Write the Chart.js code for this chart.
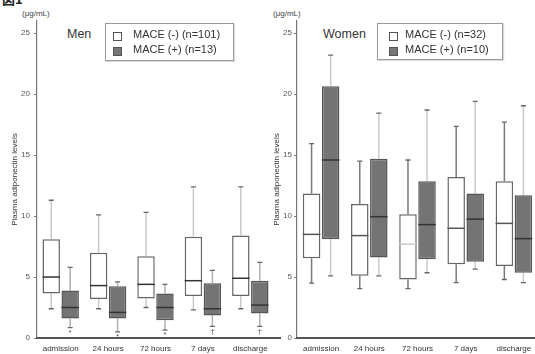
<!DOCTYPE html>
<html>
<head>
<meta charset="utf-8">
<script src="https://cdn.jsdelivr.net/npm/chart.js@4.4.1/dist/chart.umd.min.js"></script>
<style>
  html, body { margin: 0; padding: 0; background: #fff; }
  body { width: 535px; height: 354px; overflow: hidden; position: relative; font-family: "Liberation Sans", Arial, sans-serif; color: #333; }
  .abs { position: absolute; white-space: nowrap; }
  #fig { left: 2px; top: -8px; font: bold 13px/13px "Noto Sans CJK JP", sans-serif; color: #222; }
  .unit { top: 9px; font-size: 8px; line-height: 10px; color: #444; }
  .ptitle { top: 27px; font-size: 12.5px; line-height: 14px; color: #333; }
  .legend { border: 1px solid #999; box-shadow: 1px 1px 1px #ddd; background: #fff; }
  .legend .sw { position: absolute; width: 7px; height: 7px; border: 1px solid #555; }
  .legend .tx { position: absolute; font-size: 11px; line-height: 13px; color: #333; white-space: nowrap; }
  .wrap { position: absolute; top: 0; height: 354px; }
</style>
</head>
<body>
<div id="fig" class="abs">図1</div>
<div class="abs unit" style="left:22px">(μg/mL)</div>
<div class="abs unit" style="left:273px">(μg/mL)</div>
<div class="abs ptitle" style="left:67px">Men</div>
<div class="abs ptitle" style="left:323px">Women</div>

<div class="wrap" style="left:0px;width:282px"><canvas id="men"></canvas></div>
<div class="wrap" style="left:260px;width:278px"><canvas id="women"></canvas></div>

<div class="abs legend" style="left:105px;top:23px;width:127px;height:36px">
  <div class="sw" style="left:7px;top:8px;background:#fff"></div>
  <div class="tx" style="left:27px;top:4px" id="lgm1"></div>
  <div class="sw" style="left:7px;top:23px;background:#777"></div>
  <div class="tx" style="left:27px;top:19px" id="lgm2"></div>
</div>
<div class="abs legend" style="left:377px;top:23px;width:124px;height:35px">
  <div class="sw" style="left:11px;top:8px;background:#fff"></div>
  <div class="tx" style="left:27px;top:4px" id="lgw1"></div>
  <div class="sw" style="left:11px;top:23px;background:#777"></div>
  <div class="tx" style="left:27px;top:19px" id="lgw2"></div>
</div>

<script>
const timePoints = ['admission', '24 hours', '72 hours', '7 days', 'discharge'];
const yTicks = [0, 5, 10, 15, 20, 25];

// each box: [min, q1, median, q3, max]  (μg/mL)
const menNoMace = [
  [2.4, 3.65, 5.0, 8.1, 11.3],
  [2.4, 3.2, 4.3, 7.0, 10.1],
  [2.5, 3.25, 4.4, 6.7, 10.3],
  [2.3, 3.45, 4.7, 8.3, 12.4],
  [2.4, 3.45, 4.9, 8.4, 12.4]
];
const menMace = [
  [0.85, 1.6, 2.5, 3.9, 5.8],
  [0.5, 1.6, 2.1, 4.25, 4.6],
  [0.65, 1.45, 2.5, 3.65, 4.4],
  [0.95, 1.85, 2.4, 4.5, 5.55],
  [0.95, 2.0, 2.7, 4.7, 6.2]
];
const womenNoMace = [
  [4.5, 6.55, 8.5, 11.85, 15.95],
  [4.05, 5.1, 8.4, 11.0, 14.5],
  [4.05, 4.8, 7.7, 10.15, 14.6],
  [4.55, 6.05, 9.0, 13.2, 17.35],
  [4.8, 5.9, 9.4, 12.85, 17.7]
];
const womenMace = [
  [5.1, 8.1, 14.6, 20.65, 23.2],
  [5.1, 6.6, 9.95, 14.7, 18.45],
  [5.35, 6.45, 9.3, 12.85, 18.7],
  [5.65, 6.25, 9.75, 11.85, 19.4],
  [4.55, 5.35, 8.15, 11.7, 19.05]
];
const menMarks = ['*', '*', '*', '†', '†'];
const menLabels = ['MACE (-) (n=101)', 'MACE (+) (n=13)'];
const womenLabels = ['MACE (-) (n=32)', 'MACE (+) (n=10)'];

document.getElementById('lgm1').textContent = menLabels[0];
document.getElementById('lgm2').textContent = menLabels[1];
document.getElementById('lgw1').textContent = womenLabels[0];
document.getElementById('lgw2').textContent = womenLabels[1];

const FONT = '"Liberation Sans", Arial, sans-serif';

// whiskers, caps, medians and marks drawn with the chart's own scales
const boxPlugin = {
  id: 'boxes',
  beforeDatasetsDraw(chart) {
    const ctx = chart.ctx;
    const y = chart.scales.y;
    chart.data.datasets.forEach((ds, i) => {
      const meta = chart.getDatasetMeta(i);
      meta.data.forEach((el, j) => {
        const s = ds.stats[j];
        const x = el.x;
        ctx.save();
        ctx.strokeStyle = ds.whiskerColor;
        ctx.lineWidth = 1.5;
        ctx.beginPath();
        ctx.moveTo(x, y.getPixelForValue(s[3]));
        ctx.lineTo(x, y.getPixelForValue(s[4]));
        ctx.moveTo(x, y.getPixelForValue(s[1]));
        ctx.lineTo(x, y.getPixelForValue(s[0]));
        ctx.stroke();
        ctx.strokeStyle = '#666';
        ctx.lineWidth = 1.3;
        ctx.beginPath();
        [s[0], s[4]].forEach(v => {
          const py = y.getPixelForValue(v);
          ctx.moveTo(x - 2.5, py);
          ctx.lineTo(x + 2.5, py);
        });
        ctx.stroke();
        ctx.restore();
      });
    });
  },
  afterDatasetsDraw(chart) {
    const ctx = chart.ctx;
    const y = chart.scales.y;
    const area = chart.chartArea;
    chart.data.datasets.forEach((ds, i) => {
      const meta = chart.getDatasetMeta(i);
      meta.data.forEach((el, j) => {
        const s = ds.stats[j];
        const py = y.getPixelForValue(s[2]);
        ctx.save();
        ctx.strokeStyle = ds.medianColors ? ds.medianColors[j] : '#333';
        ctx.lineWidth = 1.5;
        ctx.beginPath();
        ctx.moveTo(el.x - el.width / 2, py);
        ctx.lineTo(el.x + el.width / 2, py);
        ctx.stroke();
        if (ds.marks) {
          ctx.fillStyle = '#555';
          ctx.font = '8px ' + FONT;
          ctx.textAlign = 'center';
          ctx.textBaseline = 'middle';
          ctx.fillText(ds.marks[j], el.x, y.getPixelForValue(s[0]) + 5);
        }
        ctx.restore();
      });
    });
    // x axis line
    ctx.save();
    ctx.strokeStyle = '#555';
    ctx.lineWidth = 2;
    ctx.beginPath();
    ctx.moveTo(area.left - 1, area.bottom);
    ctx.lineTo(area.right + chart.options.axisExtend, area.bottom);
    ctx.stroke();
    ctx.restore();
  }
};

function makeChart(id, noMace, mace, opts) {
  const boxes = a => a.map(s => [s[1], s[3]]);
  return new Chart(document.getElementById(id), {
    type: 'bar',
    data: {
      labels: timePoints,
      datasets: [
        {
          data: boxes(noMace), stats: noMace,
          backgroundColor: '#fff', borderColor: '#666', borderWidth: 1.5, borderSkipped: false,
          whiskerColor: opts.whiskerWhite, medianColors: opts.medianWhite,
          categoryPercentage: opts.catPct, barPercentage: 0.92
        },
        {
          data: boxes(mace), stats: mace,
          backgroundColor: '#747474', borderColor: '#555', borderWidth: 1.5, borderSkipped: false,
          whiskerColor: opts.whiskerGray, marks: opts.marks,
          categoryPercentage: opts.catPct, barPercentage: 0.92
        }
      ]
    },
    options: {
      responsive: true,
      maintainAspectRatio: false,
      animation: false,
      axisExtend: opts.axisExtend,
      layout: { padding: { top: 21, right: opts.padRight, bottom: 0, left: 0 } },
      plugins: { legend: { display: false }, tooltip: { enabled: false } },
      scales: {
        x: {
          grid: { display: false, drawTicks: false },
          border: { display: false },
          ticks: { padding: 6, color: '#333', font: { family: FONT, size: 8 }, maxRotation: 0, autoSkip: false },
          afterFit: s => { s.height = 16; }
        },
        y: {
          min: 0, max: 26,
          afterBuildTicks: s => { s.ticks = yTicks.map(v => ({ value: v })); },
          afterFit: s => { s.width = 37; },
          grid: { display: true, drawOnChartArea: false, drawTicks: true, tickLength: 3, color: '#777' },
          border: { display: true, color: '#777', width: 1.2 },
          ticks: { padding: opts.tickPad, color: '#555', font: { family: FONT, size: 8 } },
          title: {
            display: true, text: 'Plasma adiponectin levels', color: '#333',
            font: { family: FONT, size: 8 }, padding: { top: opts.titlePad, bottom: 0 }
          }
        }
      }
    },
    plugins: [boxPlugin]
  });
}

makeChart('men', menNoMace, menMace, {
  whiskerWhite: '#c8c8c8', whiskerGray: '#b0b0b0', medianWhite: null,
  marks: menMarks, catPct: 0.8, padRight: 8, axisExtend: 7, tickPad: 4, titlePad: 10
});
makeChart('women', womenNoMace, womenMace, {
  whiskerWhite: '#7a7a7a', whiskerGray: '#cacaca',
  medianWhite: ['#555', '#555', '#c8c8c8', '#555', '#555'],
  marks: null, catPct: 0.79, padRight: 0, axisExtend: 0, tickPad: 2, titlePad: 12
});
</script>
</body>
</html>
